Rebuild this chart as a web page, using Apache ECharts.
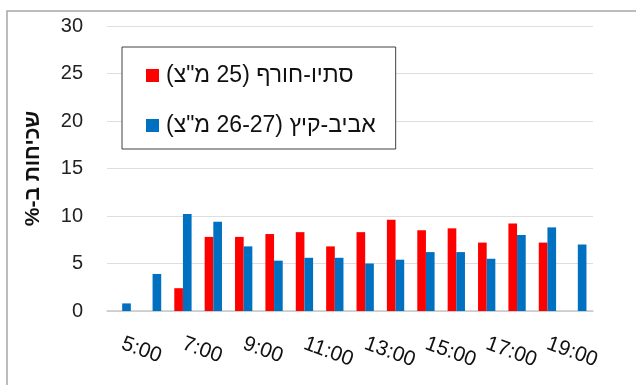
<!DOCTYPE html>
<html>
<head>
<meta charset="utf-8">
<script src="https://cdn.jsdelivr.net/npm/echarts@6/dist/echarts.min.js"></script>
<style>
html,body{margin:0;padding:0;background:#fff;}
#c{width:636px;height:385px;}
</style>
</head>
<body>
<div id="c" dir="rtl"></div>
<script>
const categories = ['5:00','6:00','7:00','8:00','9:00','10:00','11:00','12:00','13:00','14:00','15:00','16:00','17:00','18:00','19:00','20:00'];
const autumnWinter = [null,null,2.4,7.8,7.8,8.1,8.3,6.8,8.3,9.6,8.5,8.7,7.2,9.2,7.2,null];
const springSummer = [0.8,3.9,10.2,9.4,6.8,5.3,5.6,5.6,5.0,5.4,6.2,6.2,5.5,8.0,8.8,7.0];
const seriesNames = ['סתיו-חורף (25 מ"צ)', 'אביב-קיץ (26-27 מ"צ)'];
const yAxisName = 'שכיחות ב-%';

const chart = echarts.init(document.getElementById('c'), null, {renderer:'canvas'});
const font = '"Liberation Sans", Arial, "DejaVu Sans", sans-serif';
chart.setOption({
  animation:false,
  textStyle:{fontFamily:font},
  graphic:[{type:'rect',shape:{x:7,y:11,width:700,height:400},style:{fill:'none',stroke:'#a6a6a6',lineWidth:1.5},z:-1}],
  grid:{left:107,right:43,top:26,bottom:74},
  legend:{
    orient:'vertical',left:122,top:47,
    backgroundColor:'#fff',borderColor:'#404040',borderWidth:1,
    padding:[17,20,12,24],
    itemWidth:13,itemHeight:13,itemGap:27,
    icon:'rect',
    textStyle:{fontSize:23,color:'#111',lineHeight:20,padding:[0,0,0,2],fontFamily:font},
    data:seriesNames
  },
  xAxis:{
    type:'category',data:categories,
    axisLine:{lineStyle:{color:'#c8c8c8',width:1.5}},
    axisTick:{show:false},
    axisLabel:{interval:1,rotate:-20,fontSize:21,color:'#111',margin:32,fontFamily:font}
  },
  yAxis:{
    type:'value',min:0,max:30,interval:5,
    name:yAxisName,nameLocation:'middle',nameGap:63,
    nameTextStyle:{fontSize:21,fontWeight:'bold',color:'#111',fontFamily:font},
    axisLine:{show:false},axisTick:{show:false},
    axisLabel:{fontSize:20,color:'#222',margin:24,fontFamily:font},
    splitLine:{lineStyle:{color:'#dedede',width:1.2}}
  },
  series:[
    {name:seriesNames[0],type:'bar',data:autumnWinter,barWidth:'28.5%',barGap:'0%',itemStyle:{color:'#ff0000'}},
    {name:seriesNames[1],type:'bar',data:springSummer,barWidth:'28.5%',barGap:'0%',itemStyle:{color:'#0070c0'}}
  ]
});
</script>
</body>
</html>
